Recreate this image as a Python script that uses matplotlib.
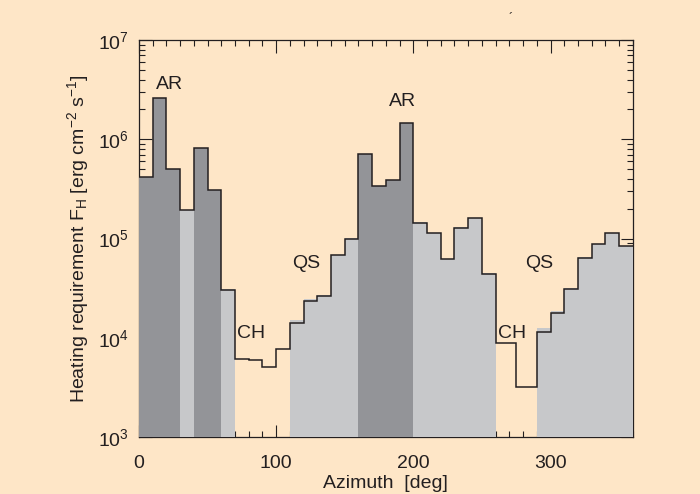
import numpy as np
import matplotlib
matplotlib.use("Agg")
import matplotlib.pyplot as plt
from matplotlib.ticker import MultipleLocator, LogLocator, NullFormatter

plt.rcParams["font.family"] = ["Liberation Sans", "DejaVu Sans"]
plt.rcParams["mathtext.fontset"] = "custom"
plt.rcParams["mathtext.rm"] = "Liberation Sans"
plt.rcParams["mathtext.it"] = "Liberation Sans"

# bin edges in azimuth (deg)
edges = [0, 10, 20, 30, 40, 50, 60, 70, 80, 90, 100, 110, 120, 130, 140, 150,
         160, 170, 180, 190, 200, 210, 220, 230, 240, 250, 260, 275, 290, 300,
         310, 320, 330, 340, 350, 360]
# heating requirement per bin (erg cm^-2 s^-1)
heating = [4.2e5, 2.58e6, 4.98e5, 1.94e5, 8.1e5, 3.08e5, 3.0e4,
           6.1e3, 5.9e3, 5.1e3, 7.7e3,
           1.42e4, 2.34e4, 2.61e4, 6.77e4, 1.0e5,
           7.1e5, 3.38e5, 3.85e5, 1.47e6,
           1.44e5, 1.13e5, 6.17e4, 1.29e5, 1.6e5, 4.39e4,
           8.8e3, 3.2e3,
           1.15e4, 1.77e4, 3.1e4, 6.4e4, 8.8e4, 1.13e5, 8.4e4]
# region of each bin: AR = active region, QS = quiet sun, CH = coronal hole
region = ["AR", "AR", "AR", "QS", "AR", "AR", "QS",
          "CH", "CH", "CH", "CH",
          "QS", "QS", "QS", "QS", "QS",
          "AR", "AR", "AR", "AR",
          "QS", "QS", "QS", "QS", "QS", "QS",
          "CH", "CH",
          "QS", "QS", "QS", "QS", "QS", "QS", "QS"]

labels = ["AR", "CH", "QS", "AR", "CH", "QS"]
label_x = [22, 82, 122, 192, 272, 292]
label_y = [3.6e6, 1.1e4, 5.6e4, 2.4e6, 1.1e4, 5.6e4]

bg = "#fee6c7"
fill = {"AR": "#939498", "QS": "#c7c8ca", "CH": "none"}
ink = "#231f20"

fig = plt.figure(figsize=(7, 4.94), dpi=100, facecolor=bg)
ax = fig.add_axes([0.1986, 0.1154, 0.7054, 0.8036])
ax.set_facecolor(bg)

left = np.array(edges[:-1])
width = np.diff(edges)
for x0, w, h, r in zip(left, width, heating, region):
    if r != "CH":
        ax.bar(x0, h, width=w, align="edge", bottom=1e3, color=fill[r],
               linewidth=0, zorder=3)
ax.stairs(heating, edges, baseline=None, color=ink, linewidth=1.1, zorder=4)

for t, x, y in zip(labels, label_x, label_y):
    ax.text(x, y, t, ha="center", va="center", fontsize=14, color=ink, zorder=5)

ax.set_yscale("log")
ax.set_xlim(0, 360)
ax.set_ylim(1e3, 1e7)
ax.xaxis.set_major_locator(MultipleLocator(100))
ax.xaxis.set_minor_locator(MultipleLocator(10))
ax.yaxis.set_major_locator(LogLocator(base=10, numticks=10))
ax.yaxis.set_minor_locator(LogLocator(base=10, subs=np.arange(2, 10), numticks=20))
ax.yaxis.set_minor_formatter(NullFormatter())
ax.tick_params(which="both", direction="in", top=True, right=True,
               colors=ink, labelsize=14, width=0.8)
ax.tick_params(which="major", length=9)
ax.tick_params(which="minor", length=4.5)
ax.tick_params(axis="x", pad=13)
ax.tick_params(axis="y", pad=7)
for s in ax.spines.values():
    s.set_color(ink)
    s.set_linewidth(0.9)

ax.set_xlabel("Azimuth  [deg]", fontsize=14, color=ink, labelpad=2)
ax.set_ylabel(r"Heating requirement F$_\mathregular{H}$ [erg cm$^\mathregular{-2}$ s$^\mathregular{-1}$]",
              fontsize=14, color=ink, labelpad=5)

fig.text(0.726, 0.955, "\u00b4", fontsize=9, color=ink)

fig.savefig("out.png", dpi=100, facecolor=bg)
